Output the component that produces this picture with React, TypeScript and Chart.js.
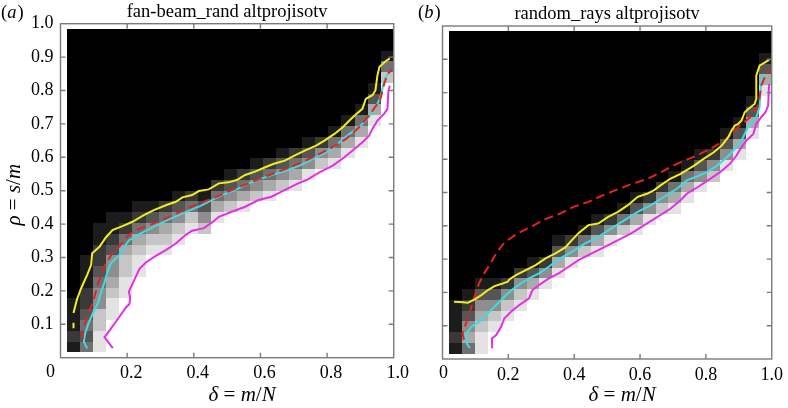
import React, { useEffect, useRef } from "react";
import { Chart, registerables } from "chart.js";

Chart.register(...registerables);

type Pt = [number, number];

// ---------- axis ticks ----------
const xTickMarks = [0.2, 0.4, 0.6, 0.8];
const yTickMarks = [0.1, 0.2, 0.3, 0.4, 0.5, 0.6, 0.7, 0.8, 0.9];

// ---------- heat-map grid (delta / rho cell edges) ----------
const deltaStart = 0.02;
const deltaStep = 0.0392;
const rhoStart = 0.016;
const rhoStep = 0.03227;
const nCols = 25;
const nRows = 30;

// per column: number of fully white cells from the bottom, then transition grey levels (9 = white, 0 = black), rest black
const whiteA = [0, 0, 0, 3, 5, 7, 9, 9, 10, 11, 11, 12, 13, 13, 14, 14, 15, 15, 16, 17, 17, 18, 19, 21, 25];
const edgeA = [
  "12111", "434322111", "887755432211", "8876553211", "88776421", "8876421", "87531", "87642",
  "87531", "8742", "7531", "8642", "7531", "8642", "7531", "8642", "7531", "8642", "8531", "752",
  "8641", "8641", "8641", "8631", "741",
];
const whiteB = [0, 0, 0, 2, 3, 4, 5, 6, 7, 8, 9, 9, 10, 11, 11, 12, 13, 13, 14, 15, 16, 17, 18, 20, 24];
const edgeB = [
  "12111", "465321", "8876531", "87531", "8752", "8752", "8631", "852", "8631", "852", "741",
  "8631", "852", "741", "8631", "852", "752", "8641", "8641", "8531", "752", "8531", "8631",
  "8631", "8631",
];

// ---------- curves, panel (a) ----------
const yellowA: Pt[] = [
  [0.039, 0.134], [0.049, 0.173], [0.062, 0.208], [0.080, 0.248], [0.092, 0.278], [0.095, 0.313],
  [0.117, 0.332], [0.136, 0.360], [0.156, 0.382], [0.186, 0.394], [0.216, 0.407], [0.250, 0.427],
  [0.280, 0.442], [0.320, 0.458], [0.346, 0.467], [0.366, 0.480], [0.395, 0.487], [0.415, 0.499],
  [0.445, 0.504], [0.475, 0.522], [0.504, 0.525], [0.529, 0.532], [0.554, 0.547], [0.584, 0.557],
  [0.609, 0.568], [0.638, 0.580], [0.673, 0.590], [0.708, 0.608], [0.738, 0.622], [0.767, 0.635],
  [0.792, 0.650], [0.822, 0.670], [0.847, 0.690], [0.867, 0.710], [0.886, 0.728], [0.906, 0.745],
  [0.916, 0.775], [0.936, 0.786], [0.945, 0.800], [0.951, 0.845], [0.957, 0.870], [0.971, 0.884],
  [0.988, 0.896],
];
const yellowStubA: Pt[] = [[0.039, 0.088], [0.039, 0.105]];
const cyanA: Pt[] = [
  [0.080, 0.028], [0.070, 0.048], [0.074, 0.073], [0.084, 0.103], [0.097, 0.133], [0.112, 0.163],
  [0.121, 0.193], [0.131, 0.223], [0.141, 0.257], [0.151, 0.283], [0.176, 0.307], [0.191, 0.332],
  [0.206, 0.352], [0.231, 0.367], [0.260, 0.382], [0.290, 0.397], [0.320, 0.412], [0.355, 0.427],
  [0.389, 0.442], [0.419, 0.454], [0.445, 0.467], [0.485, 0.487], [0.524, 0.502], [0.564, 0.522],
  [0.604, 0.537], [0.643, 0.550], [0.683, 0.562], [0.728, 0.580], [0.767, 0.600], [0.807, 0.620],
  [0.837, 0.645], [0.867, 0.670], [0.896, 0.690], [0.916, 0.710], [0.936, 0.735], [0.951, 0.760],
  [0.961, 0.784], [0.966, 0.805], [0.971, 0.829], [0.984, 0.854],
];
const redA: Pt[] = [
  [0.067, 0.056], [0.065, 0.073], [0.070, 0.093], [0.080, 0.123], [0.092, 0.153], [0.102, 0.183],
  [0.112, 0.218], [0.121, 0.248], [0.136, 0.283], [0.156, 0.313], [0.176, 0.332], [0.191, 0.352],
  [0.211, 0.372], [0.240, 0.387], [0.280, 0.402], [0.320, 0.419], [0.366, 0.440], [0.415, 0.462],
  [0.465, 0.480], [0.514, 0.502], [0.564, 0.522], [0.614, 0.542], [0.663, 0.560], [0.708, 0.578],
  [0.757, 0.600], [0.807, 0.625], [0.857, 0.655], [0.896, 0.690], [0.926, 0.725], [0.951, 0.760],
  [0.961, 0.778], [0.971, 0.819], [0.981, 0.849], [0.996, 0.864],
];
const magentaA: Pt[] = [
  [0.157, 0.029], [0.132, 0.061], [0.147, 0.081], [0.172, 0.116], [0.197, 0.151], [0.207, 0.161],
  [0.209, 0.180], [0.205, 0.197], [0.219, 0.228], [0.237, 0.266], [0.257, 0.286], [0.286, 0.305],
  [0.316, 0.322], [0.346, 0.342], [0.376, 0.368], [0.395, 0.380], [0.430, 0.388], [0.455, 0.405],
  [0.475, 0.422], [0.514, 0.437], [0.554, 0.452], [0.594, 0.472], [0.633, 0.482], [0.663, 0.497],
  [0.683, 0.507], [0.713, 0.522], [0.738, 0.532], [0.777, 0.555], [0.817, 0.575], [0.852, 0.600],
  [0.882, 0.625], [0.906, 0.645], [0.926, 0.665], [0.936, 0.685], [0.951, 0.710], [0.971, 0.730],
  [0.981, 0.745], [0.984, 0.799], [0.988, 0.814],
];

// ---------- curves, panel (b) ----------
const yellowB: Pt[] = [
  [0.035, 0.172], [0.053, 0.171], [0.077, 0.169], [0.098, 0.179], [0.118, 0.192], [0.138, 0.207],
  [0.158, 0.219], [0.178, 0.225], [0.198, 0.232], [0.203, 0.239], [0.223, 0.252], [0.253, 0.267],
  [0.283, 0.282], [0.313, 0.302], [0.343, 0.317], [0.373, 0.335], [0.393, 0.357], [0.413, 0.378],
  [0.443, 0.402], [0.473, 0.407], [0.503, 0.427], [0.533, 0.442], [0.563, 0.462], [0.593, 0.487],
  [0.623, 0.497], [0.643, 0.507], [0.663, 0.522], [0.693, 0.542], [0.723, 0.556], [0.763, 0.580],
  [0.793, 0.601], [0.823, 0.620], [0.848, 0.641], [0.868, 0.666], [0.878, 0.686], [0.888, 0.701],
  [0.898, 0.706], [0.908, 0.716], [0.918, 0.741], [0.929, 0.751], [0.948, 0.766], [0.953, 0.781],
  [0.953, 0.851], [0.963, 0.881], [0.992, 0.898],
];
const cyanB: Pt[] = [
  [0.083, 0.032], [0.071, 0.052], [0.073, 0.077], [0.088, 0.097], [0.113, 0.113], [0.133, 0.132],
  [0.153, 0.152], [0.173, 0.172], [0.193, 0.192], [0.213, 0.209], [0.238, 0.227], [0.263, 0.242],
  [0.293, 0.257], [0.323, 0.277], [0.353, 0.300], [0.393, 0.322], [0.433, 0.347], [0.473, 0.367],
  [0.513, 0.392], [0.553, 0.417], [0.593, 0.442], [0.633, 0.462], [0.673, 0.487], [0.713, 0.512],
  [0.743, 0.537], [0.773, 0.548], [0.803, 0.561], [0.833, 0.580], [0.863, 0.605], [0.888, 0.631],
  [0.908, 0.656], [0.923, 0.686], [0.933, 0.706], [0.953, 0.726], [0.963, 0.756], [0.968, 0.836],
  [0.973, 0.846], [0.978, 0.856],
];
const redB: Pt[] = [
  [0.065, 0.057], [0.061, 0.077], [0.068, 0.097], [0.078, 0.127], [0.088, 0.157], [0.098, 0.190],
  [0.110, 0.225], [0.125, 0.255], [0.143, 0.282], [0.163, 0.317], [0.188, 0.350], [0.228, 0.377],
  [0.268, 0.397], [0.313, 0.420], [0.358, 0.437], [0.398, 0.457], [0.443, 0.472], [0.483, 0.490],
  [0.528, 0.508], [0.573, 0.525], [0.623, 0.541], [0.673, 0.566], [0.723, 0.591], [0.773, 0.611],
  [0.823, 0.636], [0.863, 0.661], [0.883, 0.681], [0.908, 0.706], [0.923, 0.716], [0.944, 0.736],
  [0.958, 0.761], [0.963, 0.786], [0.968, 0.821], [0.983, 0.856], [0.993, 0.871],
];
const magentaB: Pt[] = [
  [0.151, 0.032], [0.150, 0.062], [0.163, 0.072], [0.178, 0.097], [0.188, 0.122], [0.208, 0.142],
  [0.233, 0.162], [0.263, 0.182], [0.273, 0.207], [0.293, 0.222], [0.323, 0.242], [0.353, 0.257],
  [0.383, 0.277], [0.413, 0.297], [0.453, 0.317], [0.493, 0.337], [0.533, 0.357], [0.573, 0.377],
  [0.613, 0.402], [0.653, 0.427], [0.693, 0.452], [0.723, 0.477], [0.743, 0.497], [0.778, 0.518],
  [0.813, 0.541], [0.843, 0.561], [0.873, 0.586], [0.893, 0.611], [0.908, 0.636], [0.923, 0.656],
  [0.944, 0.676], [0.953, 0.706], [0.968, 0.726], [0.981, 0.741], [0.989, 0.761], [0.992, 0.826],
];

const SERIF = '"Liberation Serif", "Times New Roman", serif';

type Part = { t: string; it: boolean };
const xTitleParts: Part[] = [
  { t: "δ", it: true },
  { t: " = ", it: false },
  { t: "m", it: true },
  { t: "/", it: false },
  { t: "N", it: true },
];
const yTitleParts: Part[] = [
  { t: "ρ", it: true },
  { t: " = ", it: false },
  { t: "s", it: true },
  { t: "/", it: false },
  { t: "m", it: true },
];

function drawParts(ctx: CanvasRenderingContext2D, parts: Part[], size: number) {
  const fonts = parts.map((p) => `${p.it ? "italic " : ""}${size}px ${SERIF}`);
  let total = 0;
  const widths = parts.map((p, i) => {
    ctx.font = fonts[i];
    const w = ctx.measureText(p.t).width;
    total += w;
    return w;
  });
  let x = -total / 2;
  parts.forEach((p, i) => {
    ctx.font = fonts[i];
    ctx.fillText(p.t, x, 0);
    x += widths[i];
  });
}

const heatmapPlugin = {
  id: "heatmap",
  beforeDatasetsDraw(chart: any, _args: any, opts: any) {
    const { ctx, chartArea, scales } = chart;
    const xs = scales.x;
    const ys = scales.y;
    const white: number[] = opts.white;
    const edge: string[] = opts.edge;
    ctx.save();
    ctx.beginPath();
    ctx.rect(chartArea.left, chartArea.top, chartArea.right - chartArea.left, chartArea.bottom - chartArea.top);
    ctx.clip();
    for (let k = 0; k < nCols; k++) {
      const xa = Math.round(xs.getPixelForValue(deltaStart + k * deltaStep));
      const xb = Math.round(xs.getPixelForValue(deltaStart + (k + 1) * deltaStep));
      for (let r = 0; r < nRows; r++) {
        let lvl = 0;
        if (r < white[k]) lvl = 9;
        else {
          const i = r - white[k];
          lvl = i < edge[k].length ? Number(edge[k][i]) : 0;
        }
        const g = Math.round((255 * lvl) / 9);
        const yb = Math.round(ys.getPixelForValue(rhoStart + r * rhoStep));
        const ya = Math.round(ys.getPixelForValue(rhoStart + (r + 1) * rhoStep));
        ctx.fillStyle = `rgb(${g},${g},${g})`;
        ctx.fillRect(xa, ya, xb - xa, yb - ya);
      }
    }
    ctx.restore();
  },
};

const framePlugin = {
  id: "frame",
  afterDatasetsDraw(chart: any, _args: any, opts: any) {
    const { ctx, chartArea, scales } = chart;
    const xs = scales.x;
    const ys = scales.y;
    const { left, right, top, bottom } = chartArea;
    ctx.save();
    ctx.strokeStyle = "#7a7a7a";
    ctx.lineWidth = 1.4;
    ctx.strokeRect(left, top, right - left, bottom - top);
    const tl = 5;
    ctx.beginPath();
    for (const v of xTickMarks) {
      const px = xs.getPixelForValue(v);
      ctx.moveTo(px, bottom);
      ctx.lineTo(px, bottom - tl);
      ctx.moveTo(px, top);
      ctx.lineTo(px, top + tl);
    }
    for (const v of yTickMarks) {
      const py = ys.getPixelForValue(v);
      ctx.moveTo(left, py);
      ctx.lineTo(left + tl, py);
      ctx.moveTo(right, py);
      ctx.lineTo(right - tl, py);
    }
    ctx.stroke();
    ctx.fillStyle = "#000";
    ctx.textBaseline = "middle";
    ctx.textAlign = "left";
    // panel letter
    let x = opts.labelX;
    const y = opts.labelY;
    ctx.font = `18.5px ${SERIF}`;
    ctx.fillText("(", x, y);
    x += ctx.measureText("(").width;
    ctx.font = `italic 18.5px ${SERIF}`;
    ctx.fillText(opts.letter, x, y);
    x += ctx.measureText(opts.letter).width + 1;
    ctx.font = `18.5px ${SERIF}`;
    ctx.fillText(")", x, y);
    // origin label of the delta axis
    ctx.textAlign = "center";
    ctx.font = `18px ${SERIF}`;
    ctx.fillText("0", left + opts.zeroDx, bottom + 14.5);
    ctx.textAlign = "left";
    // x axis title
    ctx.save();
    ctx.translate((left + right) / 2 + 15, 395);
    drawParts(ctx, xTitleParts, 21);
    ctx.restore();
    // y axis title
    if (opts.yTitle) {
      ctx.save();
      ctx.translate(14, (top + bottom) / 2 + 4);
      ctx.rotate(-Math.PI / 2);
      drawParts(ctx, yTitleParts, 21);
      ctx.restore();
    }
    ctx.restore();
  },
};

const toXY = (a: Pt[]) => a.map(([x, y]) => ({ x, y }));

function lineDs(data: Pt[], color: string, dashed = false) {
  return {
    data: toXY(data),
    showLine: true,
    borderColor: color,
    backgroundColor: color,
    borderWidth: 2,
    pointRadius: 0,
    borderDash: dashed ? [9, 5] : [],
    tension: 0,
  };
}

interface PanelProps {
  title: string;
  letter: string;
  white: number[];
  edge: string[];
  yellow: Pt[];
  yellowStub?: Pt[];
  cyan: Pt[];
  red: Pt[];
  magenta: Pt[];
  showYLabels: boolean;
  width: number;
  yAxisWidth: number;
  padRight: number;
  titlePad: { top: number; bottom: number };
  xAxisHeight: number;
  labelX: number;
  xLabelOffset: number;
  zeroDx: number;
}

function Panel(p: PanelProps) {
  const ref = useRef<HTMLCanvasElement | null>(null);
  useEffect(() => {
    if (!ref.current) return;
    const datasets: any[] = [
      lineDs(p.yellow, "#f2ee1c"),
      lineDs(p.red, "#e32222", true),
      lineDs(p.cyan, "#3fdbe0"),
      lineDs(p.magenta, "#e62ee6"),
    ];
    if (p.yellowStub) datasets.push(lineDs(p.yellowStub, "#f2ee1c"));
    const chart = new Chart(ref.current, {
      type: "scatter",
      data: { datasets },
      options: {
        animation: false,
        responsive: false,
        devicePixelRatio: 1,
        layout: { padding: { left: 0, right: p.padRight, top: 0, bottom: 0 } },
        plugins: {
          legend: { display: false },
          tooltip: { enabled: false },
          title: {
            display: true,
            text: p.title,
            fullSize: false,
            color: "#000",
            font: { family: SERIF, size: 18.5, weight: "normal" },
            padding: p.titlePad,
          },
          heatmap: { white: p.white, edge: p.edge },
          frame: { letter: p.letter, labelX: p.labelX, labelY: 13, yTitle: p.showYLabels, zeroDx: p.zeroDx },
        } as any,
        scales: {
          x: {
            type: "linear",
            position: "bottom",
            min: 0,
            max: 1,
            grid: { display: false, drawTicks: false },
            border: { display: false },
            ticks: {
              stepSize: 0.2,
              color: "#000",
              padding: 5,
              labelOffset: p.xLabelOffset,
              maxRotation: 0,
              autoSkip: false,
              font: { family: SERIF, size: 18 },
              callback: (v: any) => (Math.abs(v) < 1e-9 ? "" : Number(v).toFixed(1)),
            },
            afterFit: (s: any) => {
              s.height = p.xAxisHeight;
            },
          },
          y: {
            type: "linear",
            min: 0,
            max: 1,
            grid: { display: false, drawTicks: false },
            border: { display: false },
            ticks: {
              display: p.showYLabels,
              stepSize: 0.1,
              color: "#000",
              padding: 7,
              autoSkip: false,
              font: { family: SERIF, size: 18 },
              callback: (v: any) => (Number(v) < 0.05 ? "" : Number(v).toFixed(1)),
            },
            afterFit: (s: any) => {
              s.width = p.yAxisWidth;
            },
          },
        },
      } as any,
      plugins: [heatmapPlugin, framePlugin],
    });
    return () => chart.destroy();
  }, []);
  return <canvas ref={ref} width={p.width} height={408} style={{ width: p.width, height: 408, display: "block" }} />;
}

export default function App() {
  return (
    <div style={{ position: "fixed", left: 0, top: 0, width: 788, height: 408, background: "#fff", display: "flex" }}>
      <Panel
        title="fan-beam_rand altprojisotv"
        letter="a"
        white={whiteA}
        edge={edgeA}
        yellow={yellowA}
        yellowStub={yellowStubA}
        cyan={cyanA}
        red={redA}
        magenta={magentaA}
        showYLabels={true}
        width={410}
        yAxisWidth={60.5}
        padRight={13.5}
        titlePad={{ top: 1, bottom: 0.5 }}
        xAxisHeight={50.3}
        labelX={1}
        xLabelOffset={4}
        zeroDx={-10}
      />
      <Panel
        title="random_rays altprojisotv"
        letter="b"
        white={whiteB}
        edge={edgeB}
        yellow={yellowB}
        cyan={cyanB}
        red={redB}
        magenta={magentaB}
        showYLabels={false}
        width={378}
        yAxisWidth={32.5}
        padRight={12.5}
        titlePad={{ top: 3, bottom: 0.8 }}
        xAxisHeight={49}
        labelX={8}
        xLabelOffset={0}
        zeroDx={1}
      />
    </div>
  );
}
